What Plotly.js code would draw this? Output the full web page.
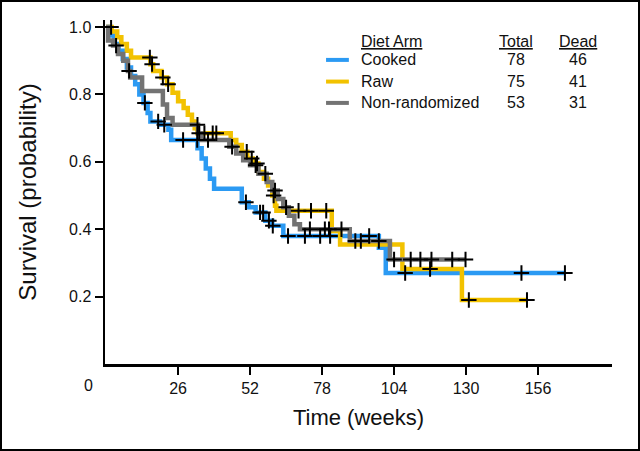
<!DOCTYPE html>
<html>
<head>
<meta charset="utf-8">
<script src="https://cdn.plot.ly/plotly-3.0.1.min.js"></script>
<style>
html,body{margin:0;padding:0;background:#fff;}
#chart{width:640px;height:451px;box-sizing:border-box;border:2px solid #000;}
</style>
</head>
<body>
<div id="chart"></div>
<script>
// ---- data ----
var groupNames = ["Cooked", "Raw", "Non-randomized"];
var groupTotals = [78, 75, 53];
var groupDead = [46, 41, 31];
var groupColors = ["#2b9af3", "#f2c200", "#737373"];

var cookedT = [0, 1.5, 3, 4.5, 6, 7.5, 9, 10.5, 12, 13.5, 15, 16, 19.5, 22.5, 23.5, 33, 34.5, 36, 37.5, 39, 49, 51.5, 54, 57.5, 60, 64, 98.5, 101, 165.7];
var cookedS = [1, 0.975, 0.95, 0.93, 0.905, 0.88, 0.855, 0.83, 0.80, 0.775, 0.745, 0.72, 0.71, 0.695, 0.665, 0.64, 0.61, 0.58, 0.55, 0.52, 0.48, 0.465, 0.45, 0.425, 0.41, 0.38, 0.345, 0.27, 0.27];
var cookedCens = [14, 18.8, 21, 27.8, 32.9, 50.5, 55.6, 56.7, 58.8, 60.2, 65.7, 71.8, 77.3, 80.9, 95, 108, 150, 165.7];

var rawT = [0, 2, 4, 5.5, 7.5, 9, 16, 17, 20, 22, 24, 26, 28, 29.5, 31, 32, 33, 45, 47, 49, 51, 53, 55, 57, 58.5, 60, 61, 61.5, 81.5, 84.5, 107, 128.5, 152];
var rawS = [1, 0.987, 0.97, 0.95, 0.93, 0.91, 0.89, 0.87, 0.85, 0.83, 0.805, 0.78, 0.76, 0.74, 0.72, 0.70, 0.685, 0.665, 0.65, 0.63, 0.61, 0.595, 0.57, 0.55, 0.53, 0.50, 0.47, 0.455, 0.395, 0.355, 0.282, 0.19, 0.19];
var rawCens = [1.8, 15.8, 16.6, 20.5, 22.4, 33.6, 35.5, 38.5, 39.8, 50.8, 52.6, 54.5, 60.5, 69.5, 74, 79.5, 117, 131, 152];

var nonrT = [0, 0.7, 2.5, 4.3, 6.2, 7.9, 8.7, 13, 20.5, 22, 24, 33.2, 34.3, 44.5, 47, 49.5, 52, 55, 58, 60, 62, 64, 66, 68, 70, 88, 102.5, 129.8];
var nonrS = [1, 0.96, 0.945, 0.92, 0.9, 0.87, 0.85, 0.81, 0.77, 0.73, 0.71, 0.685, 0.665, 0.645, 0.625, 0.605, 0.59, 0.565, 0.54, 0.515, 0.49, 0.465, 0.44, 0.415, 0.4, 0.365, 0.31, 0.31];
var nonrCens = [3.6, 8.3, 33, 36.8, 45.5, 54, 57.5, 61, 65, 73.6, 79, 80.5, 85, 90, 92, 98.5, 104, 110, 113.5, 117.5, 125, 129.8];

var xTicks = [26, 52, 78, 104, 130, 156];
var yTicks = [0.2, 0.4, 0.6, 0.8, 1.0];
var yTickText = ["0.2", "0.4", "0.6", "0.8", "1.0"];

// ---- helpers ----
function stepAt(T, S, t) {
  var v = S[0];
  for (var i = 0; i < T.length; i++) { if (T[i] <= t) v = S[i]; else break; }
  return v;
}

var series = [
  {T: cookedT, S: cookedS, C: cookedCens},
  {T: rawT, S: rawS, C: rawCens},
  {T: nonrT, S: nonrS, C: nonrCens}
];

var traces = [];
series.forEach(function (g, i) {
  traces.push({
    type: "scatter", mode: "lines", x: g.T, y: g.S, name: groupNames[i],
    line: {shape: "hv", color: groupColors[i], width: 4.5},
    hoverinfo: "skip", showlegend: false
  });
});
series.forEach(function (g, i) {
  traces.push({
    type: "scatter", mode: "markers", x: g.C,
    y: g.C.map(function (t) { return stepAt(g.T, g.S, t); }),
    name: groupNames[i] + " censored",
    marker: {symbol: "cross-thin", size: 11, color: "#000", line: {color: "#000", width: 2}},
    hoverinfo: "skip", showlegend: false
  });
});

var textFont = "Liberation Sans Narrow, Arial Narrow, Liberation Sans, Arial, sans-serif";
var legFont = {family: "Liberation Sans, Arial, sans-serif", size: 16, color: "#111"};

var annotations = [
  {xref: "x", yref: "paper", x: 0, y: 0, text: "0", showarrow: false, xanchor: "center", yanchor: "top", xshift: -18, yshift: -11, font: {family: textFont, size: 16, color: "#111"}},
  {xref: "paper", yref: "paper", x: 0.501, y: 0.938, text: "<u>Diet Arm</u>", showarrow: false, xanchor: "left", yanchor: "middle", font: legFont},
  {xref: "paper", yref: "paper", x: 0.811, y: 0.938, text: "<u>Total</u>", showarrow: false, xanchor: "center", yanchor: "middle", font: legFont},
  {xref: "paper", yref: "paper", x: 0.933, y: 0.938, text: "<u>Dead</u>", showarrow: false, xanchor: "center", yanchor: "middle", font: legFont}
];
var shapes = [];
var rowY = [0.884, 0.821, 0.759];
groupNames.forEach(function (n, i) {
  annotations.push({xref: "paper", yref: "paper", x: 0.501, y: rowY[i], text: n, showarrow: false, xanchor: "left", yanchor: "middle", font: legFont});
  annotations.push({xref: "paper", yref: "paper", x: 0.811, y: rowY[i], text: String(groupTotals[i]), showarrow: false, xanchor: "center", yanchor: "middle", font: legFont});
  annotations.push({xref: "paper", yref: "paper", x: 0.933, y: rowY[i], text: String(groupDead[i]), showarrow: false, xanchor: "center", yanchor: "middle", font: legFont});
  shapes.push({type: "line", xref: "paper", yref: "paper", x0: 0.436, x1: 0.481, y0: rowY[i], y1: rowY[i], line: {color: groupColors[i], width: 4}});
});

var layout = {
  width: 636, height: 447,
  margin: {l: 103, r: 26, t: 18, b: 85},
  paper_bgcolor: "#fff", plot_bgcolor: "#fff",
  showlegend: false,
  xaxis: {
    range: [-0.4, 182.7], tickvals: xTicks, ticktext: xTicks.map(String),
    showgrid: false, zeroline: false, showline: true, linecolor: "#000", linewidth: 2.5,
    ticks: "outside", ticklen: 8, tickwidth: 2, tickcolor: "#000",
    tickfont: {family: textFont, size: 16, color: "#111"},
    title: {text: "Time (weeks)", font: {family: textFont, size: 22, color: "#111"}, standoff: 14},
    automargin: false
  },
  yaxis: {
    range: [0, 1.021], tickvals: yTicks, ticktext: yTickText,
    showgrid: false, zeroline: false, showline: true, linecolor: "#000", linewidth: 2.5,
    ticks: "outside", ticklen: 8, tickwidth: 2, tickcolor: "#000",
    tickfont: {family: textFont, size: 16, color: "#111"},
    title: {text: "Survival (probability)", font: {family: textFont, size: 24, color: "#111"}, standoff: 26},
    automargin: false
  },
  annotations: annotations,
  shapes: shapes
};

Plotly.newPlot("chart", traces, layout, {staticPlot: true, displayModeBar: false});
</script>
</body>
</html>
